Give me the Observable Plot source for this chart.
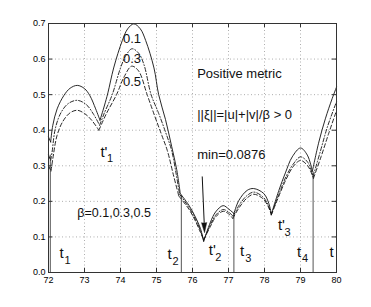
<!DOCTYPE html>
<html><head><meta charset="utf-8">
<script src="https://cdn.jsdelivr.net/npm/d3@7"></script>
<script src="https://cdn.jsdelivr.net/npm/@observablehq/plot@0.6"></script>
<style>body{margin:0;background:#fff}</style>
</head><body><div id="chart"></div>
<script>
// ---- data ----
const xTicks = [72, 73, 74, 75, 76, 77, 78, 79, 80];
const yTicks = [0, 0.1, 0.2, 0.3, 0.4, 0.5, 0.6, 0.7];
const betas = ["0.1", "0.3", "0.5"];

// each series: list of arcs (pieces between cusps), points [t, value]
const arcs01 = [
  [[72.00,0.381],[72.06,0.367]],
  [[72.06,0.367],[72.12,0.414],[72.24,0.46],[72.43,0.498],[72.6,0.518],[72.8,0.526],[73.0,0.517],[73.15,0.497],[73.31,0.46],[73.43,0.428]],
  [[73.43,0.428],[73.55,0.468],[73.65,0.505],[73.81,0.575],[74.05,0.652],[74.2,0.685],[74.37,0.699],[74.55,0.685],[74.7,0.652],[74.93,0.575],[75.06,0.50],[75.25,0.43],[75.42,0.355],[75.56,0.29],[75.66,0.222]],
  [[75.66,0.222],[75.9,0.189],[76.08,0.156],[76.22,0.124],[76.31,0.0876]],
  [[76.31,0.0876],[76.5,0.142],[76.64,0.17],[76.85,0.188],[77.01,0.178],[77.15,0.166]],
  [[77.15,0.166],[77.29,0.203],[77.52,0.231],[77.7,0.236],[77.98,0.222],[78.12,0.194],[78.19,0.164]],
  [[78.19,0.164],[78.4,0.231],[78.58,0.28],[78.77,0.325],[79.0,0.35],[79.19,0.33],[79.33,0.285]],
  [[79.33,0.285],[79.51,0.367],[79.69,0.432],[79.88,0.489],[80.0,0.521]]
];
const arcs03 = [
  [[72.00,0.33],[72.06,0.315]],
  [[72.06,0.315],[72.1,0.339],[72.19,0.405],[72.35,0.45],[72.55,0.475],[72.8,0.484],[73.05,0.472],[73.25,0.445],[73.42,0.414]],
  [[73.42,0.414],[73.55,0.448],[73.77,0.50],[74.0,0.575],[74.15,0.61],[74.32,0.629],[74.5,0.617],[74.65,0.585],[74.85,0.50],[75.05,0.45],[75.25,0.395],[75.42,0.343],[75.55,0.275],[75.64,0.22]],
  [[75.64,0.22],[75.9,0.183],[76.08,0.15],[76.22,0.118],[76.31,0.09]],
  [[76.31,0.09],[76.5,0.135],[76.65,0.162],[76.85,0.177],[77.0,0.17],[77.13,0.158]],
  [[77.13,0.158],[77.3,0.19],[77.5,0.215],[77.7,0.226],[77.95,0.213],[78.1,0.19],[78.19,0.163]],
  [[78.19,0.163],[78.4,0.22],[78.6,0.27],[78.8,0.305],[79.0,0.325],[79.2,0.31],[79.35,0.27]],
  [[79.35,0.27],[79.55,0.34],[79.75,0.41],[80.0,0.48]]
];
const arcs05 = [
  [[72.00,0.30],[72.07,0.285]],
  [[72.07,0.285],[72.12,0.32],[72.24,0.386],[72.4,0.425],[72.6,0.449],[72.8,0.456],[73.0,0.447],[73.2,0.428],[73.4,0.40]],
  [[73.4,0.40],[73.6,0.445],[73.89,0.50],[74.1,0.55],[74.31,0.58],[74.5,0.567],[74.74,0.50],[74.95,0.44],[75.15,0.385],[75.3,0.343],[75.48,0.27],[75.62,0.215]],
  [[75.62,0.215],[75.9,0.178],[76.08,0.145],[76.22,0.113],[76.31,0.092]],
  [[76.31,0.092],[76.5,0.13],[76.65,0.157],[76.85,0.172],[77.0,0.165],[77.12,0.152]],
  [[77.12,0.152],[77.3,0.183],[77.5,0.208],[77.7,0.22],[77.95,0.208],[78.1,0.186],[78.19,0.162]],
  [[78.19,0.162],[78.4,0.215],[78.6,0.262],[78.8,0.298],[79.0,0.315],[79.2,0.30],[79.36,0.265]],
  [[79.36,0.265],[79.57,0.325],[79.78,0.39],[80.0,0.455]]
];

// switching instants (vertical lines) and their heights
const tLinesX = [72.05, 75.69, 77.15, 79.35];
const tLinesTop = [0.33, 0.217, 0.166, 0.283];

// labels of instants
const tNames = ["t", "t'", "t", "t'", "t", "t'", "t", "t"];
const tSubs = ["1", "1", "2", "2", "3", "3", "4", ""];
const tLabX = [72.36, 73.54, 75.36, 76.55, 77.38, 78.47, 78.96, 79.86];
const tLabY = [0.054, 0.339, 0.051, 0.063, 0.06, 0.133, 0.058, 0.058];

// curve labels
const betaLabY = [0.658, 0.600, 0.535];
const betaLabX = 74.32;

// annotations
const notes = ["Positive metric", "||ξ||=|u|+|v|/β > 0", "min=0.0876"];
const notesY = [0.559, 0.442, 0.332];
const notesX = 76.13;
const betaNote = "β=0.1,0.3,0.5";
const betaNoteAt = [72.8, 0.166];

// arrow pointing at the minimum
const arrowFrom = [76.27, 0.27];
const arrowTo = [76.325, 0.14];
const arrowTip = [76.335, 0.112];

// ---- build tables ----
const allArcs = [arcs01, arcs03, arcs05];
const rows = [];
allArcs.forEach((arcs, b) => arcs.forEach((arc, i) => arc.forEach(([x, y]) =>
  rows.push({beta: betas[b], arc: b + "-" + i, x, y}))));
const tLines = tLinesX.map((x, i) => ({x, top: tLinesTop[i]}));
const tLabels = tNames.map((n, i) => ({n, s: tSubs[i], x: tLabX[i], y: tLabY[i]}));
const betaLabels = betas.map((b, i) => ({b, y: betaLabY[i]}));
const noteRows = notes.map((t, i) => ({t, y: notesY[i]}));

const font = "'Liberation Sans', Arial, Helvetica, sans-serif";
const lineStyle = {
  "0.1": {strokeDasharray: null},
  "0.3": {strokeDasharray: "4,2,1,2"},
  "0.5": {strokeDasharray: "4,2.5"}
};

const plot = Plot.plot({
  width: 371,
  height: 307,
  marginLeft: 48,
  marginRight: 35,
  marginTop: 23,
  marginBottom: 35,
  style: {fontFamily: font, background: "#fff", color: "#000"},
  x: {domain: [72, 80]},
  y: {domain: [0, 0.7]},
  marks: [
    Plot.ruleX(xTicks, {stroke: "#999", strokeDasharray: "1,2.5", strokeWidth: 0.8}),
    Plot.ruleY(yTicks, {stroke: "#999", strokeDasharray: "1,2.5", strokeWidth: 0.8}),
    Plot.ruleX(tLines, {x: "x", y1: 0, y2: "top", stroke: "#555", strokeWidth: 1}),
    ...betas.map(b => Plot.line(rows.filter(r => r.beta === b), {
      x: "x", y: "y", z: "arc", curve: "catmull-rom",
      stroke: "#111", strokeWidth: 0.9, strokeDasharray: lineStyle[b].strokeDasharray
    })),
    Plot.link([0], {x1: () => arrowFrom[0], y1: () => arrowFrom[1], x2: () => arrowTo[0], y2: () => arrowTo[1], stroke: "#111", strokeWidth: 1}),
    Plot.vector([0], {x: () => arrowTip[0], y: () => arrowTip[1], shape: "spike", length: 10, r: 2.6, rotate: 177.5, anchor: "end", fill: "#111", stroke: "#111", strokeWidth: 0.5}),
    Plot.frame({stroke: "#333", strokeWidth: 1}),
    // inward ticks on all four sides
    Plot.ruleX(xTicks, {y1: 0, y2: 0.012, stroke: "#333"}),
    Plot.ruleX(xTicks, {y1: 0.7, y2: 0.688, stroke: "#333"}),
    Plot.ruleY(yTicks, {x1: 72, x2: 72.12, stroke: "#333"}),
    Plot.ruleY(yTicks, {x1: 80, x2: 79.88, stroke: "#333"}),
    Plot.axisX(xTicks, {tickSize: 0, tickPadding: 4, fontSize: 9, label: null}),
    Plot.axisY(yTicks, {tickSize: 0, tickPadding: 3, fontSize: 9, label: null}),
    // curve labels
    Plot.text(betaLabels, {x: () => betaLabX, y: "y", text: "b", fontSize: 13, textAnchor: "middle", fill: "#111"}),
    // annotations
    Plot.text(noteRows, {x: () => notesX, y: "y", text: "t", fontSize: 13, textAnchor: "start", fill: "#111"}),
    Plot.text([betaNote], {x: () => betaNoteAt[0], y: () => betaNoteAt[1], text: d => d, fontSize: 12.5, textAnchor: "start", fill: "#111"}),
    // instant labels with subscripts
    Plot.text(tLabels, {x: "x", y: "y", text: "n", fontSize: 15, textAnchor: "middle", fill: "#111"}),
    Plot.text(tLabels, {x: "x", y: "y", text: "s", fontSize: 11, textAnchor: "start", dx: 3, dy: 7, fill: "#111"})
  ]
});
document.getElementById("chart").appendChild(plot);
</script>
</body></html>
